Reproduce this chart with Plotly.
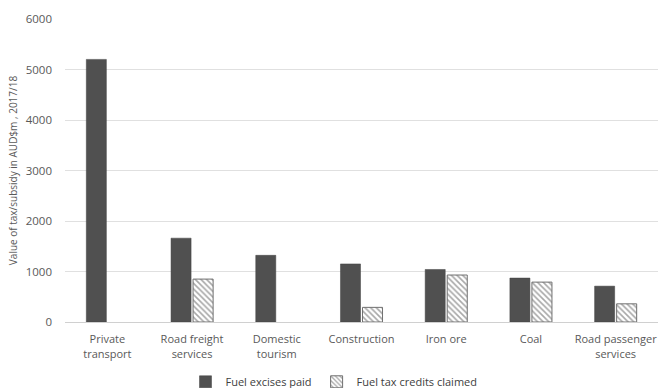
import plotly.graph_objects as go

categories = ["Private<br>transport", "Road freight<br>services", "Domestic<br>tourism",
              "Construction", "Iron ore", "Coal", "Road passenger<br>services"]
excises_paid = [5200, 1660, 1320, 1150, 1040, 870, 710]
credits_claimed = [None, 850, None, 290, 930, 790, 360]

font_family = "Open Sans, Liberation Sans, sans-serif"
text_color = "#595959"

fig = go.Figure()
fig.add_trace(go.Bar(
    name="Fuel excises paid", x=categories, y=excises_paid,
    marker=dict(color="#505050", line=dict(color="#404040", width=0.5)),
))
fig.add_trace(go.Bar(
    name="Fuel tax credits claimed", x=categories, y=credits_claimed,
    marker=dict(color="white", line=dict(color="#707070", width=1),
                pattern=dict(shape="\\", fgcolor="#505050", bgcolor="white",
                             size=4, solidity=0.4)),
))

fig.update_layout(
    width=668, height=388,
    margin=dict(l=65, r=10, t=19, b=66, autoexpand=False),
    plot_bgcolor="white", paper_bgcolor="white",
    barmode="group", bargap=0.48, bargroupgap=0.09,
    font=dict(family=font_family, size=11, color=text_color),
    showlegend=True,
    legend=dict(orientation="h", x=0.5, xanchor="center", xref="container",
                y=0.016, yanchor="middle", yref="container",
                font=dict(size=11, color="#404040"), itemwidth=30,
                traceorder="normal"),
    xaxis=dict(showgrid=False, showline=True, linecolor="#d0d0d0", linewidth=1,
               ticks="", ticklabelstandoff=7,
               tickfont=dict(size=11, color=text_color)),
    yaxis=dict(range=[0, 6000], dtick=1000, showgrid=True, gridcolor="#e0e0e0",
               gridwidth=1, zeroline=False, showline=False, ticks="",
               ticklabelstandoff=12,
               tickfont=dict(size=11.5, color=text_color),
               title=dict(text="Value of tax/subsidy in AUD$m , 2017/18",
                          font=dict(size=10, color=text_color), standoff=6)),
)

fig.write_html("out.html")
